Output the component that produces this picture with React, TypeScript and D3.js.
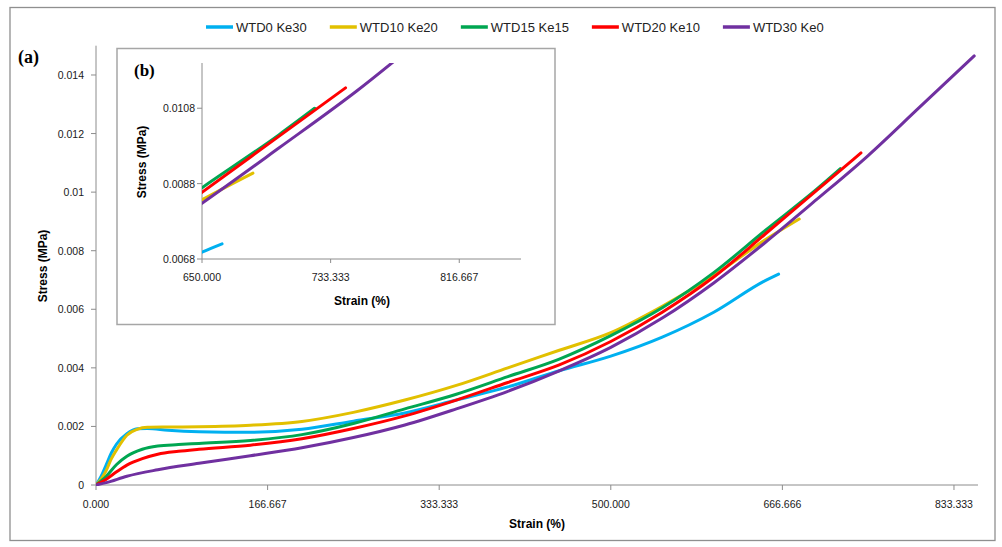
import React from "react";
import * as d3 from "d3";

const seriesNames = ["WTD0 Ke30", "WTD10 Ke20", "WTD15 Ke15", "WTD20 Ke10", "WTD30 Ke0"];
const seriesColors = ["#00B0F0", "#E2C000", "#00A651", "#FF0000", "#7030A0"];

const strainBlue = [0, 5, 10, 15, 20, 30, 40, 50, 70, 100, 150, 200, 250, 300, 350, 400, 450, 500, 550, 600, 650, 663];
const stressBlue = [0, 0.0003, 0.0007, 0.0011, 0.0014, 0.00175, 0.00192, 0.00193, 0.00187, 0.00182, 0.0018, 0.0019, 0.00218, 0.00246, 0.0029, 0.00335, 0.0039, 0.0044, 0.00505, 0.0059, 0.00698, 0.0072];

const strainYellow = [0, 5, 10, 15, 20, 30, 40, 50, 70, 100, 150, 200, 250, 300, 350, 400, 450, 500, 550, 600, 650, 683];
const stressYellow = [0, 0.0002, 0.0005, 0.0009, 0.0012, 0.0017, 0.0019, 0.00197, 0.00198, 0.00199, 0.00204, 0.00217, 0.00248, 0.0029, 0.0034, 0.004, 0.0046, 0.0052, 0.0061, 0.00715, 0.00837, 0.00908];

const strainGreen = [0, 10, 20, 30, 45, 60, 80, 100, 150, 200, 250, 300, 350, 400, 450, 500, 550, 600, 650, 700, 723];
const stressGreen = [0, 0.0003, 0.0007, 0.00098, 0.00122, 0.00133, 0.00138, 0.00142, 0.00152, 0.00172, 0.0021, 0.0026, 0.0031, 0.0037, 0.0043, 0.0051, 0.00605, 0.00725, 0.00869, 0.0101, 0.0108];

const strainRed = [0, 10, 20, 30, 45, 60, 80, 100, 150, 200, 250, 300, 350, 400, 450, 500, 550, 600, 650, 700, 743];
const stressRed = [0, 0.0002, 0.00045, 0.00068, 0.0009, 0.00105, 0.00115, 0.00122, 0.00136, 0.00158, 0.00193, 0.00236, 0.0029, 0.0035, 0.0041, 0.0049, 0.0059, 0.0071, 0.00857, 0.01006, 0.01134];

const strainPurple = [0, 10, 30, 60, 100, 150, 200, 250, 300, 350, 400, 450, 500, 550, 600, 650, 700, 750, 800, 853];
const stressPurple = [0, 0.00008, 0.0003, 0.00052, 0.00074, 0.001, 0.00127, 0.00162, 0.00205, 0.0026, 0.0032, 0.0039, 0.0047, 0.0057, 0.0069, 0.00828, 0.00975, 0.01125, 0.0129, 0.01465];

const mainXTicks = [0, 166.667, 333.333, 500, 666.666, 833.333];
const mainXTickLabels = ["0.000", "166.667", "333.333", "500.000", "666.666", "833.333"];
const mainYTicks = [0, 0.002, 0.004, 0.006, 0.008, 0.01, 0.012, 0.014];
const mainYTickLabels = ["0", "0.002", "0.004", "0.006", "0.008", "0.01", "0.012", "0.014"];

const insetXTicks = [650, 733.333, 816.667];
const insetXTickLabels = ["650.000", "733.333", "816.667"];
const insetYTicks = [0.0068, 0.0088, 0.0108];
const insetYTickLabels = ["0.0068", "0.0088", "0.0108"];

const strains = [strainBlue, strainYellow, strainGreen, strainRed, strainPurple];
const stresses = [stressBlue, stressYellow, stressGreen, stressRed, stressPurple];

const FONT = "'Liberation Sans', Arial, sans-serif";
const SERIF = "'Liberation Serif', 'DejaVu Serif', 'Times New Roman', serif";

function measure(text: string, font: string): number {
  const c = document.createElement("canvas");
  const ctx = c.getContext("2d");
  if (!ctx) return text.length * 7;
  ctx.font = font;
  return ctx.measureText(text).width;
}

export default function App() {
  const W = 1002, H = 547;
  const mx = d3.scaleLinear().domain([0, 856.667]).range([96, 978]);
  const my = d3.scaleLinear().domain([0, 0.015]).range([485, 45.7]);
  const ix = d3.scaleLinear().domain([650, 856.667]).range([202, 521]);
  const iy = d3.scaleLinear().domain([0.0068, 0.012]).range([259, 63]);

  const data = strains.map((s, i) => s.map((v, j) => [v, stresses[i][j]] as [number, number]));

  const mainLine = d3.line<[number, number]>().x(d => mx(d[0])).y(d => my(d[1])).curve(d3.curveMonotoneX);
  const insetLine = d3.line<[number, number]>().x(d => ix(d[0])).y(d => iy(d[1])).curve(d3.curveMonotoneX);

  const legendFont = `13px ${FONT}`;
  let lx = 206;
  const legendItems = seriesNames.map((name, i) => {
    const w = measure(name, legendFont);
    const item = { name, color: seriesColors[i], x: lx };
    lx += 27 + 3 + w + 23;
    return item;
  });

  const axisColor = "#8C8C8C";
  const tickText = "#1a1a1a";

  return (
    <svg width={W} height={H} style={{ position: "absolute", left: 0, top: 0, background: "#fff" }}>
      <defs>
        <clipPath id="mainClip">
          <rect x={96} y={45} width={882} height={441} />
        </clipPath>
        <clipPath id="insetClip">
          <rect x={202} y={63} width={319} height={196} />
        </clipPath>
      </defs>
      <rect x={0} y={0} width={W} height={H} fill="#fff" />
      <rect x={10} y={7.5} width={985} height={533} fill="none" stroke="#8f8f8f" strokeWidth={1.3} />

      {legendItems.map((it, i) => (
        <g key={i}>
          <line x1={it.x} x2={it.x + 27} y1={27} y2={27} stroke={it.color} strokeWidth={3.5} />
          <text x={it.x + 30} y={31.5} fontFamily={FONT} fontSize={13} fill="#222">{it.name}</text>
        </g>
      ))}

      <text x={18} y={63} fontFamily={SERIF} fontWeight="bold" fontSize={18} fill="#000">(a)</text>

      <line x1={96} x2={96} y1={45.7} y2={485} stroke={axisColor} strokeWidth={1} />
      <line x1={96} x2={978} y1={485} y2={485} stroke={axisColor} strokeWidth={1} />
      {mainYTicks.map((t, i) => (
        <g key={"my" + i}>
          <line x1={91} x2={96} y1={my(t)} y2={my(t)} stroke={axisColor} />
          <text x={84} y={my(t) + 4} textAnchor="end" fontFamily={FONT} fontSize={10.5} fill={tickText}>{mainYTickLabels[i]}</text>
        </g>
      ))}
      {mainXTicks.map((t, i) => (
        <g key={"mx" + i}>
          <line x1={mx(t)} x2={mx(t)} y1={485} y2={490} stroke={axisColor} />
          <text x={mx(t)} y={508} textAnchor="middle" fontFamily={FONT} fontSize={10.5} fill={tickText}>{mainXTickLabels[i]}</text>
        </g>
      ))}
      <text x={537} y={528} textAnchor="middle" fontFamily={FONT} fontWeight="bold" fontSize={12} fill="#000">Strain (%)</text>
      <text transform={`translate(47,266) rotate(-90)`} textAnchor="middle" fontFamily={FONT} fontWeight="bold" fontSize={12} fill="#000">Stress (MPa)</text>

      <g clipPath="url(#mainClip)">
        {data.map((d, i) => (
          <path key={"ml" + i} d={mainLine(d) || ""} fill="none" stroke={seriesColors[i]} strokeWidth={3} strokeLinejoin="round" strokeLinecap="round" />
        ))}
      </g>

      <rect x={117} y={48.5} width={438} height={276} fill="#fff" stroke="#A6A6A6" strokeWidth={1.5} />
      <text x={134} y={76} fontFamily={SERIF} fontWeight="bold" fontSize={17} fill="#000">(b)</text>
      <line x1={202} x2={202} y1={63} y2={259} stroke={axisColor} />
      <line x1={202} x2={521} y1={259} y2={259} stroke={axisColor} />
      {insetYTicks.map((t, i) => (
        <g key={"iy" + i}>
          <line x1={197} x2={202} y1={iy(t)} y2={iy(t)} stroke={axisColor} />
          <text x={195} y={iy(t) + 4} textAnchor="end" fontFamily={FONT} fontSize={10.5} fill={tickText}>{insetYTickLabels[i]}</text>
        </g>
      ))}
      {insetXTicks.map((t, i) => (
        <g key={"ix" + i}>
          <line x1={ix(t)} x2={ix(t)} y1={259} y2={263} stroke={axisColor} />
          <text x={ix(t)} y={281} textAnchor="middle" fontFamily={FONT} fontSize={10.5} fill={tickText}>{insetXTickLabels[i]}</text>
        </g>
      ))}
      <text x={362} y={305} textAnchor="middle" fontFamily={FONT} fontWeight="bold" fontSize={12} fill="#000">Strain (%)</text>
      <text transform={`translate(146,162) rotate(-90)`} textAnchor="middle" fontFamily={FONT} fontWeight="bold" fontSize={12} fill="#000">Stress (MPa)</text>
      <g clipPath="url(#insetClip)">
        {data.map((d, i) => (
          <path key={"il" + i} d={insetLine(d.filter(p => p[0] >= 600)) || ""} fill="none" stroke={seriesColors[i]} strokeWidth={3} strokeLinejoin="round" strokeLinecap="round" />
        ))}
      </g>
    </svg>
  );
}
